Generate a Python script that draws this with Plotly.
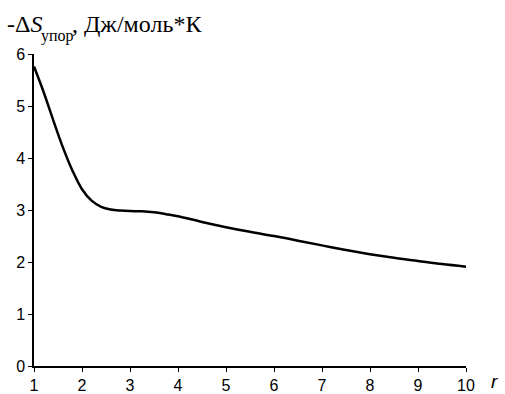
import plotly.graph_objects as go

r_vals = [1, 1.2, 1.4, 1.6, 1.8, 2.0, 2.2, 2.4, 2.6, 2.8, 3.0, 3.25, 3.5, 3.75, 4, 4.5, 5, 5.5, 6, 6.5, 7, 7.5, 8, 8.5, 9, 9.5, 10]
ds_vals = [5.76, 5.27, 4.73, 4.21, 3.76, 3.40, 3.18, 3.06, 3.01, 2.99, 2.98, 2.975, 2.955, 2.92, 2.88, 2.77, 2.67, 2.58, 2.50, 2.41, 2.32, 2.23, 2.15, 2.08, 2.02, 1.96, 1.91]
x_ticks = [1, 2, 3, 4, 5, 6, 7, 8, 9, 10]
y_ticks = [0, 1, 2, 3, 4, 5, 6]

fig = go.Figure()
fig.add_trace(go.Scatter(x=r_vals, y=ds_vals, mode="lines",
                         line=dict(color="black", width=2.5, shape="spline", smoothing=1.0),
                         hoverinfo="skip"))

axis_common = dict(showgrid=False, zeroline=False, showline=True, linecolor="black", linewidth=1.5,
                   ticks="outside", ticklen=4, tickwidth=1, tickcolor="black", automargin=False,
                   tickfont=dict(family="Liberation Sans, Arial", size=16, color="black"))

fig.update_layout(
    width=505, height=394,
    margin=dict(l=34, r=39, t=54, b=28),
    paper_bgcolor="white", plot_bgcolor="white",
    showlegend=False,
    xaxis=dict(range=[1, 10], tickvals=x_ticks, ticklabelstandoff=0, **axis_common),
    yaxis=dict(range=[0, 6], tickvals=y_ticks, **axis_common),
)

serif = "Liberation Serif, Times New Roman"
fig.add_annotation(xref="paper", yref="paper", x=-0.066, y=1.096, xanchor="left", yanchor="middle",
                   showarrow=False, text="-Δ<i>S</i>",
                   font=dict(family=serif, size=24, color="black"))
fig.add_annotation(xref="paper", yref="paper", x=0.012, y=1.057, xanchor="left", yanchor="middle",
                   showarrow=False, text="упор",
                   font=dict(family=serif, size=16, color="black"))
fig.add_annotation(xref="paper", yref="paper", x=0.083, y=1.096, xanchor="left", yanchor="middle",
                   showarrow=False, text=", Дж/моль*К",
                   font=dict(family=serif, size=24, color="black"))
fig.add_annotation(xref="paper", yref="paper", x=1.054, y=-0.05, xanchor="left", yanchor="middle",
                   showarrow=False, text="<i>r</i>",
                   font=dict(family="Liberation Sans, Arial", size=19, color="black"))

fig.write_html("out.html", config={"displayModeBar": False},
               post_script="document.body.style.margin='0';")
